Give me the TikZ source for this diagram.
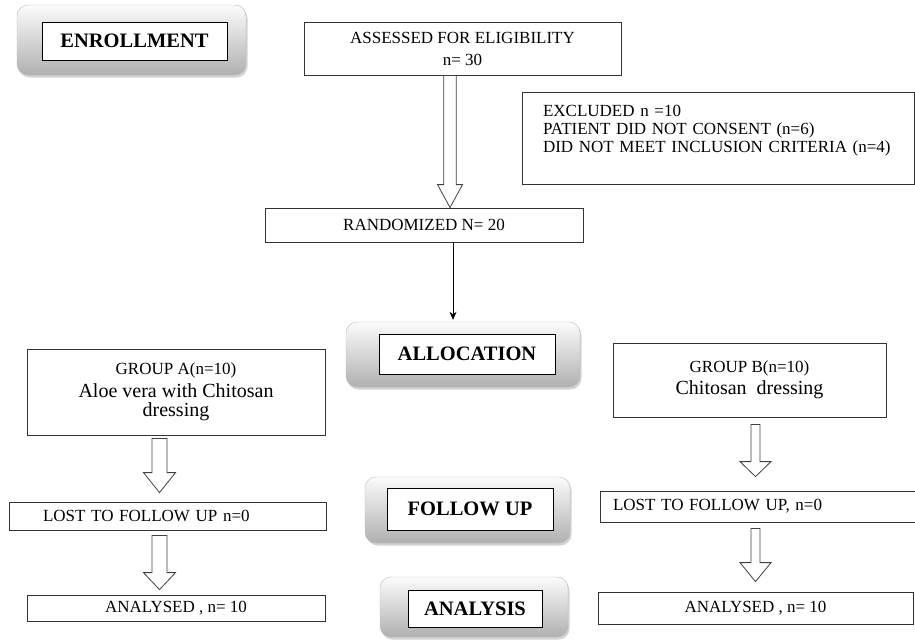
\documentclass[tikz,border=0pt]{standalone}
\usepackage{fontspec}
\setmainfont{Liberation Serif}
\usetikzlibrary{calc,shadows,arrows.meta}

\newcommand\bigtext{\fontsize{20}{22}\selectfont}

\tikzset{
  ashaft/.store in=\ashaft, ahead/.store in=\ahead, alen/.store in=\alen,
  asgap/.store in=\asgap, agap/.store in=\agap,
  ashaft=6, ahead=12, alen=20, asgap=0, agap=0,
  blockarrow/.style={draw=black!75, line width=.8pt, fill=white, to path={
      ($(\tikztostart)+(-\ashaft,\asgap)$) -- ($(\tikztotarget)+(-\ashaft,-\alen-\agap)$)
      -- ($(\tikztotarget)+(-\ahead,-\alen-\agap)$) -- ($(\tikztotarget)+(0,-\agap)$)
      -- ($(\tikztotarget)+(\ahead,-\alen-\agap)$) -- ($(\tikztotarget)+(\ashaft,-\alen-\agap)$)
      -- ($(\tikztostart)+(\ashaft,\asgap)$) -- cycle}},
  phase/.style={rounded corners=11pt, draw=gray!55, top color=gray!3, bottom color=gray!62,
      drop shadow={opacity=.35, shadow xshift=1.5pt, shadow yshift=-2.5pt}},
  phasetag/.style={draw=black, line width=.8pt, fill=white, inner sep=0pt,
      font=\bfseries\fontsize{20.5}{22}\selectfont},
  flowbox/.style={draw=black!80, line width=.8pt, inner sep=0pt,
      font=\fontsize{17}{18}\selectfont},
}

\begin{document}
\begin{tikzpicture}[x=1pt, y=-1pt]
  \useasboundingbox (0,0) rectangle (915,641);

  \begin{scope}[every node/.style={phase}]
    \node[minimum width=229, minimum height=70] (enrollbg)   at (131.5,40)  {};
    \node[minimum width=234, minimum height=65] (allocbg)    at (463,354.5) {};
    \node[minimum width=205, minimum height=66] (followbg)   at (467.5,510) {};
    \node[minimum width=188, minimum height=60] (analysisbg) at (474,607)   {};
  \end{scope}

  \begin{scope}[every node/.style={phasetag}]
    \node[minimum width=185, minimum height=38] (enroll)   at (134.5,41)  {ENROLLMENT};
    \node[minimum width=176, minimum height=40] (alloc)    at (467,354)   {ALLOCATION};
    \node[minimum width=166, minimum height=42] (follow)   at (470,509)   {FOLLOW UP};
    \node[minimum width=134, minimum height=37] (analysis) at (475,608.5) {ANALYSIS};
  \end{scope}

  \begin{scope}[every node/.style={flowbox}]
    \node[minimum width=317, minimum height=53, align=center] (assess) at (462.5,48.5)
      {ASSESSED FOR ELIGIBILITY\\[4pt]n= 30};
    \node[minimum width=392, minimum height=92, text width=350, inner xsep=21, align=left] (excl) at (718,138)
      {EXCLUDED n =10\\PATIENT DID NOT CONSENT (n=6)\\DID NOT MEET INCLUSION CRITERIA (n=4)\\\mbox{}};
    \node[minimum width=318, minimum height=34] (rand) at (424,225) {RANDOMIZED N= 20};
    \node[minimum width=298, minimum height=86, align=center] (grpA) at (176,392)
      {GROUP A(n=10)\\[5pt]\bigtext Aloe vera with Chitosan\\[1pt]\bigtext dressing};
    \node[minimum width=273, minimum height=74, align=center] (grpB) at (749.5,380)
      {GROUP B(n=10)\\[4pt]\bigtext Chitosan\ \ dressing};
    \node[minimum height=28, text width=249, inner xsep=34, align=left] (lostA) at (167.5,516)
      {LOST TO FOLLOW UP n=0};
    \node[minimum height=31, text width=289, inner xsep=13, align=left] (lostB) at (757.5,506.5)
      {LOST TO FOLLOW UP, n=0};
    \node[minimum width=298, minimum height=26] (anaA) at (176,608)   {ANALYSED , n= 10};
    \node[minimum width=315, minimum height=32] (anaB) at (755.5,608) {ANALYSED , n= 10};
  \end{scope}

  \coordinate (axis0) at (450,0);
  \coordinate (axisA) at (159.5,0);
  \coordinate (axisB) at (755.5,0);
  \coordinate (thin)  at (453,0);

  \draw[blockarrow, ashaft=6.2, ahead=12.5, alen=23] (axis0 |- assess.south) to (axis0 |- rand.north);
  \draw[blockarrow, ashaft=7.5, ahead=16, alen=20, asgap=3, agap=9] (axisA |- grpA.south) to (axisA |- lostA.north);
  \draw[blockarrow, ashaft=7.5, ahead=16, alen=17, asgap=5, agap=5] (axisA |- lostA.south) to (axisA |- anaA.north);
  \draw[blockarrow, ashaft=4.5, ahead=15.5, alen=15, asgap=7, agap=14] (axisB |- grpB.south) to (axisB |- lostB.north);
  \draw[blockarrow, ashaft=4.5, ahead=15.5, alen=19, asgap=6, agap=10] (axisB |- lostB.south) to (axisB |- anaB.north);

  \draw[-{Stealth[length=8pt,width=7pt]}, line width=.8pt, shorten >=2pt] (thin |- rand.south) -- (thin |- allocbg.north);

\end{tikzpicture}
\end{document}
